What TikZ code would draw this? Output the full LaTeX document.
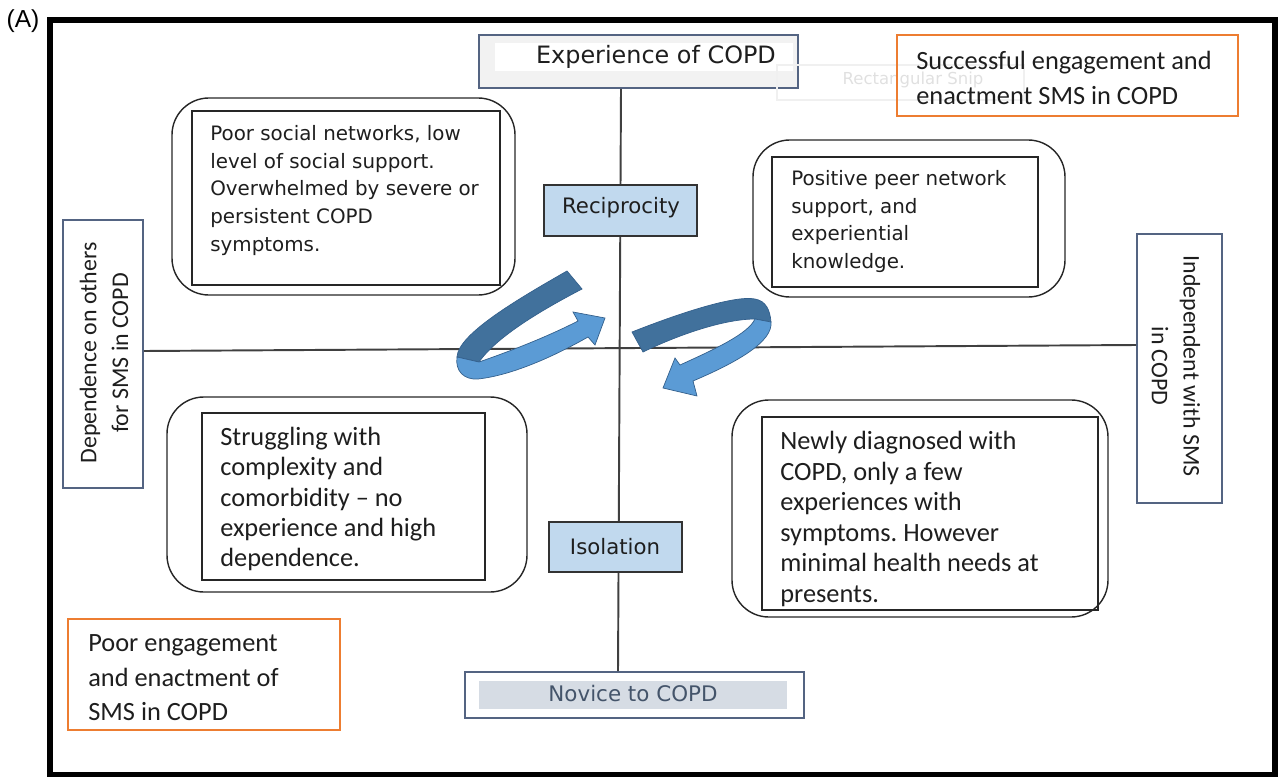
\documentclass[tikz,border=0pt]{standalone}
\usepackage{fontspec}
\setmainfont{Carlito}
\newfontfamily\verdfont{DejaVu Sans}
\newfontfamily\arialfont{Liberation Sans}
\usepackage{tikz}
\usetikzlibrary{positioning}
\usetikzlibrary{fit}
\frenchspacing
\definecolor{slate}{RGB}{84,100,130}
\definecolor{orangeline}{RGB}{237,125,49}
\definecolor{lightblue}{RGB}{193,217,238}
\definecolor{novicefill}{RGB}{214,220,228}
\definecolor{novicetext}{RGB}{68,84,106}
\definecolor{darkribbon}{RGB}{65,113,156}
\definecolor{lightribbon}{RGB}{91,155,213}
\definecolor{ribbonedge}{RGB}{52,96,140}
\definecolor{txt}{RGB}{30,30,30}

\tikzset{
  frame/.style={draw=black!85, line width=0.8pt, rounded corners=21pt, inner sep=0pt},
  inbox/.style={draw=black!85, line width=1.1pt, inner sep=0pt},
  slatebox/.style={draw=slate, line width=0.9pt, inner sep=0pt},
  orangebox/.style={draw=orangeline, line width=0.9pt, inner sep=0pt},
  blockbox/.style={draw=black!80, fill=lightblue, line width=0.9pt, inner sep=0pt},
  bodytext/.style={anchor=north west, align=left, inner sep=0pt, text=txt,
    font=\fontsize{15}{17.2}\selectfont},
  verdtext/.style={anchor=north west, align=left, inner sep=0pt, text=txt,
    font=\verdfont\fontsize{11.3}{15.8}\selectfont},
  axis/.style={draw=black!75, line width=1.1pt}
}

\begin{document}
\begin{tikzpicture}[x=0.02cm,y=-0.02cm]
\useasboundingbox (0,0) rectangle (1279,777);

% outer frame and panel label
\draw[line width=2.9pt] (50,20) rectangle (1275,775);
\node[font=\arialfont\fontsize{14}{16}\selectfont, inner sep=0pt] (figlabel) at (23,21) {(A)};

% axis ends
\node[slatebox, fill=black!5, fit={(479,35) (798,88)}] (expcopd) {};
\node[fill=white, inner sep=0pt, fit={(495,43) (793,71)}] (expinner) {};
\node[font=\verdfont\fontsize{13.6}{16}\selectfont, text=txt] (exptxt) at (656,57) {Experience of COPD};

\node[slatebox, fit={(465,672) (804,718)}] (novice) {};
\node[fill=novicefill, inner sep=0pt, fit={(479,681) (787,709)}] (noviceinner) {};
\node[font=\verdfont\fontsize{12.2}{14}\selectfont, text=novicetext] (novicetxt) at (633,694) {Novice to COPD};

\node[slatebox, fit={(63,220) (143,488)}] (dependence) {};
\node[rotate=90, align=center, text=txt, font=\fontsize{13.6}{18}\selectfont] (deptxt) at (104,353)
  {Dependence on others\\for SMS in COPD};

\node[slatebox, fit={(1137,234) (1222,503)}] (independent) {};
\node[rotate=-90, align=center, text=txt, font=\fontsize{13.6}{18}\selectfont] (indtxt) at (1176,366)
  {Independent with SMS\\in COPD};

% axes
\draw[axis] ([xshift=-0.35cm]expcopd.south) -- ([xshift=-0.33cm]novice.north);
\draw[axis] ([yshift=0.06cm]dependence.east) -- ([yshift=0.47cm]independent.west);

% faint snip box
\node[draw=black!6, line width=0.6pt, inner sep=0pt, fit={(777,65) (1024,100)}] (snip) {};
\node[font=\verdfont\fontsize{9.4}{11}\selectfont, text=black!12] (sniptxt) at (913,80) {Rectangular Snip};

% outcome boxes
\node[orangebox, fit={(897,35) (1238,116)}] (success) {};
\node[bodytext, font=\fontsize{15}{19.8}\selectfont] (successtxt) at (916,51)
  {Successful engagement and\\enactment SMS in COPD};

\node[orangebox, fit={(68,619) (340,730)}] (poorengage) {};
\node[bodytext, font=\fontsize{15}{19.8}\selectfont] (poorengagetxt) at (88,634)
  {Poor engagement\\and enactment of\\SMS in COPD};

% quadrants
\node[frame, fit={(172,98) (515,295)}] (poorsocialframe) {};
\node[inbox, fit={(192,111) (500,285)}] (poorsocial) {};
\node[verdtext] (poorsocialtxt) at (210,125)
  {Poor social networks, low\\level of social support.\\Overwhelmed by severe or\\persistent COPD\\symptoms.};

\node[frame, fit={(753,140) (1065,297)}] (positivepeerframe) {};
\node[inbox, fit={(772,157) (1038,287)}] (positivepeer) {};
\node[verdtext] (positivepeertxt) at (791,170)
  {Positive peer network\\support, and\\experiential\\knowledge.};

\node[frame, fit={(167,397) (527,592)}] (strugglingframe) {};
\node[inbox, fit={(202,413) (485,580)}] (struggling) {};
\node[bodytext] (strugglingtxt) at (220,427)
  {Struggling with\\complexity and\\comorbidity -- no\\experience and high\\dependence.};

\node[frame, fit={(732,400) (1108,617)}] (newlydiagframe) {};
\node[inbox, fit={(762,417) (1098,610)}] (newlydiag) {};
\node[bodytext, font=\fontsize{15}{17.4}\selectfont] (newlydiagtxt) at (780,431)
  {Newly diagnosed with\\COPD, only a few\\experiences with\\symptoms. However\\minimal health needs at\\presents.};

% centre labels on the axis
\node[blockbox, fit={(544,185) (697,236)}] (reciprocity) {};
\node[font=\verdfont\fontsize{12.1}{14}\selectfont, text=txt] (reciptxt) at (621,208) {Reciprocity};
\node[blockbox, fit={(549,522) (682,572)}] (isolation) {};
\node[font=\verdfont\fontsize{12.1}{14}\selectfont, text=txt] (isotxt) at (615,547) {Isolation};

% left ribbon arrow
\filldraw[fill=darkribbon, draw=ribbonedge, line width=0.4pt]
  (567,271) .. controls (518,299) and (458,334) .. (457,357)
  -- (479,362) .. controls (496,338) and (536,313) .. (582,289) -- cycle;
\filldraw[fill=lightribbon, draw=ribbonedge, line width=0.4pt]
  (457,357) .. controls (455,371) and (464,380) .. (478,379)
  .. controls (515,375) and (560,353) .. (588,337) -- (595,345) -- (605,318)
  -- (573,312) -- (578,321) .. controls (545,338) and (505,353) .. (479,362) -- cycle;

% right ribbon arrow
\filldraw[fill=darkribbon, draw=ribbonedge, line width=0.4pt]
  (632,332) .. controls (680,313) and (735,295) .. (755,299)
  .. controls (766,301) and (770,310) .. (771,322)
  -- (755,319) .. controls (725,319) and (680,334) .. (643,352) -- cycle;
\filldraw[fill=lightribbon, draw=ribbonedge, line width=0.4pt]
  (771,322) .. controls (773,341) and (740,361) .. (693,381) -- (697,396) -- (663,388)
  -- (675,358) -- (680,365) .. controls (715,349) and (748,334) .. (755,319) -- cycle;
\end{tikzpicture}
\end{document}
